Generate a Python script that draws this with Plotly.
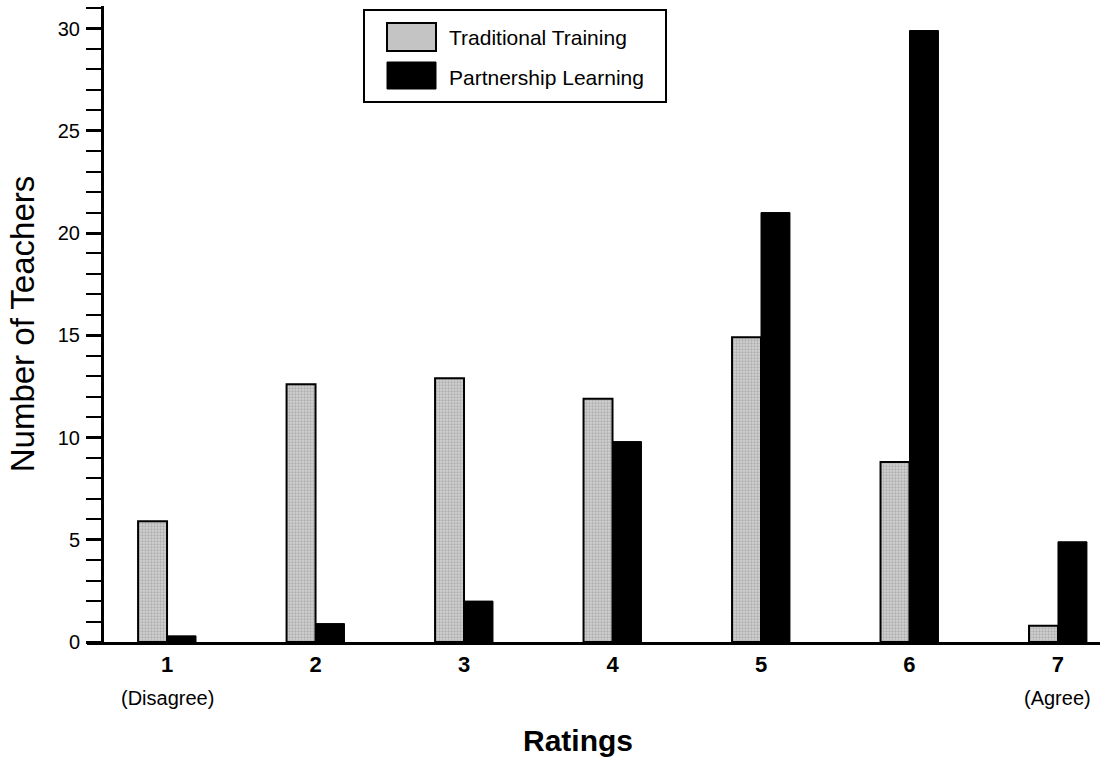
import plotly.graph_objects as go

ratings = [1, 2, 3, 4, 5, 6, 7]
tick_labels = ["<b>1</b>", "<b>2</b>", "<b>3</b>", "<b>4</b>", "<b>5</b>", "<b>6</b>", "<b>7</b>"]
traditional = [5.9, 12.6, 12.9, 11.9, 14.9, 8.8, 0.8]
partnership = [0.3, 0.9, 2.0, 9.8, 21.0, 29.9, 4.9]
series_names = ["Traditional Training", "Partnership Learning"]
end_labels = {1: "(Disagree)", 7: "(Agree)"}

W, H = 1100, 761
L, R, T, B = 87, 0, 6, 119
PW, PH = W - L - R, H - T - B


def px(x):
    return (x - L) / PW


def py(y):
    return (H - B - y) / PH


FONT = "Liberation Sans, Arial, sans-serif"

fig = go.Figure()
fig.add_trace(go.Bar(
    x=ratings, y=traditional, name=series_names[0],
    marker=dict(color="#c4c4c4", line=dict(color="black", width=2),
                pattern=dict(shape=".", size=3, solidity=0.45,
                             fgcolor="#8a8a8a", bgcolor="#d2d2d2")),
    showlegend=False,
))
fig.add_trace(go.Bar(
    x=ratings, y=partnership, name=series_names[1],
    marker=dict(color="black", line=dict(color="black", width=1)),
    showlegend=False,
))

ymax = 31.1
fig.update_layout(
    width=W, height=H,
    margin=dict(l=L, r=R, t=T, b=B),
    paper_bgcolor="white", plot_bgcolor="white",
    barmode="group", bargap=0.61, bargroupgap=0,
    font=dict(family=FONT, color="black", size=20),
    xaxis=dict(
        range=[0.461, 7.283], tickmode="array", tickvals=ratings, ticktext=tick_labels,
        showline=True, linewidth=3, linecolor="black", ticks="", showgrid=False,
        zeroline=False, tickfont=dict(size=22), ticklabelstandoff=1,
    ),
    yaxis=dict(
        range=[0, ymax], anchor="free", position=px(102),
        tickmode="array", tickvals=[0, 5, 10, 15, 20, 25, 30],
        showline=True, linewidth=3, linecolor="black", showgrid=False, zeroline=False,
        ticks="outside", ticklen=15, tickwidth=3, tickcolor="black",
        minor=dict(dtick=1, ticks="outside", ticklen=15, tickwidth=1.5, tickcolor="black"),
        tickfont=dict(size=20), ticklabelstandoff=2,
        title=dict(text="Number of Teachers", font=dict(size=33), standoff=12),
    ),
    yaxis2=dict(
        range=[0, ymax], overlaying="y", anchor="free", position=px(102),
        tickmode="array", tickvals=[0, 5, 10, 15, 20, 25, 30],
        showline=False, showgrid=False, zeroline=False, showticklabels=False,
        ticks="inside", ticklen=10, tickwidth=3, tickcolor="black",
        minor=dict(dtick=1, ticks="inside", ticklen=5, tickwidth=1.5, tickcolor="black"),
    ),
)

annotations = []
for k, txt in end_labels.items():
    annotations.append(dict(x=k, xref="x", y=py(698), yref="paper", yanchor="middle",
                            text=txt, showarrow=False, font=dict(size=20)))
annotations.append(dict(x=px(578), xref="paper", y=py(740), yref="paper", yanchor="middle",
                        text="<b>Ratings</b>", showarrow=False, font=dict(size=30)))
# legend text
annotations.append(dict(x=px(447), y=py(37), xref="paper", yref="paper", xanchor="left",
                        yanchor="middle", text=series_names[0], showarrow=False,
                        font=dict(size=21)))
annotations.append(dict(x=px(447), y=py(77), xref="paper", yref="paper", xanchor="left",
                        yanchor="middle", text=series_names[1], showarrow=False,
                        font=dict(size=21)))
fig.update_layout(annotations=annotations)

shapes = [
    dict(type="rect", xref="paper", yref="paper", x0=px(364), x1=px(666), y0=py(102), y1=py(10),
         line=dict(color="black", width=2), fillcolor="white", layer="above"),
    dict(type="rect", xref="paper", yref="paper", x0=px(387), x1=px(436), y0=py(51), y1=py(23),
         line=dict(color="black", width=2), fillcolor="#c4c4c4", layer="above"),
    dict(type="rect", xref="paper", yref="paper", x0=px(387), x1=px(436), y0=py(89), y1=py(62),
         line=dict(color="black", width=1), fillcolor="black", layer="above"),
]
fig.update_layout(shapes=shapes)

fig.write_html("out.html", config={"displayModeBar": False},
               post_script="document.body.style.margin='0';")
